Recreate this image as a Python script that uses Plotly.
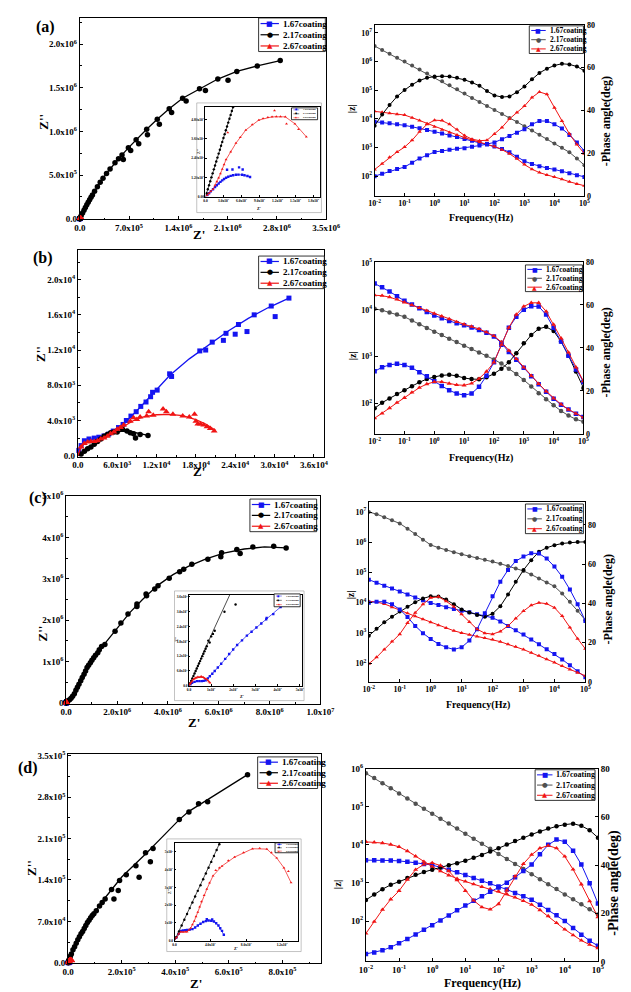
import plotly.graph_objects as go

W, H = 631, 992
SERIF = "Liberation Serif"
SYM = "DejaVu Sans"
BLUE = "#1414f0"
RED = "#f01414"
BLACK = "#000000"
GRAY = "#505050"

NAMES = ["1.67coating", "2.17coating", "2.67coating"]
PANEL_LABELS = ["(a)", "(b)", "(c)", "(d)"]

# ---------------- Bode data (frequency, log10|Z|, -phase) ----------------
F_HZ = [0.01, 0.0178, 0.0316, 0.0562, 0.1, 0.178, 0.316, 0.562, 1, 1.78, 3.16, 5.62, 10, 17.8,
        31.6, 56.2, 100, 178, 316, 562, 1000, 1780, 3160, 5620, 10000, 17800, 31600, 56200, 100000]

A_LOGZ_167 = [3.90,3.87,3.84,3.81,3.77,3.72,3.67,3.61,3.55,3.49,3.42,3.36,3.29,3.23,3.16,3.10,3.03,2.94,2.83,2.67,2.52,2.42,2.34,2.28,2.23,2.17,2.10,2.03,1.97]
A_LOGZ_217 = [6.54,6.40,6.27,6.13,6.00,5.86,5.72,5.58,5.45,5.31,5.17,5.03,4.88,4.73,4.59,4.45,4.31,4.17,4.03,3.89,3.74,3.59,3.44,3.29,3.14,2.99,2.83,2.61,2.38]
A_LOGZ_267 = [4.26,4.23,4.19,4.16,4.13,4.04,3.94,3.83,3.72,3.62,3.52,3.43,3.34,3.26,3.18,3.11,3.03,2.92,2.78,2.60,2.40,2.24,2.12,2.04,1.97,1.89,1.80,1.72,1.66]
A_PH_167 = [9.2,10.3,11.6,12.5,13.5,15.5,17.5,19.0,20.5,21.0,21.5,22.0,22.3,23.0,23.5,24.2,25.0,26.5,28.0,29.5,31.2,33.5,35.0,35.0,33.5,31.5,28.5,25.0,21.0]
A_PH_217 = [32.8,38.0,42.5,46.5,49.5,52.0,54.0,55.2,55.8,56.0,55.8,55.2,54.3,53.0,51.5,49.0,47.0,46.2,46.5,48.5,51.2,54.5,57.5,59.5,61.0,61.8,61.5,60.5,58.5]
A_PH_267 = [12.3,15.0,18.0,20.5,22.8,26.0,30.0,33.5,35.4,35.2,33.5,31.0,28.2,26.5,25.8,26.0,28.9,32.0,36.0,39.0,42.0,46.0,48.6,47.5,41.2,35.0,29.0,24.0,19.7]

B_LOGZ_167 = [4.56,4.48,4.39,4.29,4.19,4.11,4.03,3.95,3.88,3.82,3.76,3.71,3.67,3.62,3.57,3.51,3.43,3.29,3.10,2.93,2.76,2.58,2.41,2.25,2.10,1.97,1.87,1.78,1.71]
B_LOGZ_217 = [4.02,3.99,3.94,3.90,3.85,3.77,3.69,3.61,3.53,3.46,3.38,3.31,3.23,3.16,3.09,3.02,2.94,2.85,2.74,2.63,2.50,2.36,2.22,2.09,1.96,1.84,1.74,1.66,1.61]
B_LOGZ_267 = [4.31,4.30,4.27,4.22,4.16,4.10,4.04,3.98,3.92,3.86,3.80,3.74,3.69,3.64,3.59,3.52,3.44,3.31,3.13,2.95,2.77,2.59,2.42,2.26,2.11,1.98,1.87,1.78,1.70]
B_PH_167 = [29.1,31.0,32.1,32.6,32.1,30.8,28.7,26.8,24.5,22.3,20.3,18.8,18.0,18.8,21.9,27.0,33.3,41.5,49.4,54.5,57.8,59.4,59.3,55.5,49.4,43.0,36.4,30.0,24.2]
B_PH_217 = [11.9,14.5,16.5,18.5,20.3,22.2,24.0,25.5,26.5,27.2,27.5,27.0,26.0,25.5,25.4,26.3,28.0,30.3,33.3,37.5,42.2,46.0,48.9,49.8,47.9,43.0,36.4,29.0,21.4]
B_PH_267 = [7.3,9.5,12.0,14.5,16.8,19.3,21.5,23.2,24.2,24.2,23.4,22.8,22.6,23.5,25.7,29.0,33.3,41.5,49.4,55.5,59.3,61.0,61.0,57.0,50.9,44.5,37.9,31.0,24.5]

C_LOGZ_167 = [4.76,4.66,4.56,4.47,4.37,4.27,4.17,4.08,3.99,3.92,3.85,3.79,3.73,3.68,3.62,3.56,3.50,3.38,3.23,3.09,2.95,2.78,2.62,2.46,2.30,2.12,1.93,1.73,1.53]
C_LOGZ_217 = [7.00,6.93,6.83,6.73,6.62,6.45,6.27,6.08,5.91,5.82,5.74,5.67,5.60,5.54,5.48,5.42,5.36,5.29,5.21,5.13,5.05,4.93,4.80,4.67,4.54,4.30,4.03,3.73,3.42]
C_LOGZ_267 = [4.05,4.02,3.96,3.85,3.75,3.65,3.55,3.45,3.35,3.25,3.16,3.07,3.00,2.94,2.88,2.83,2.78,2.71,2.62,2.54,2.45,2.34,2.24,2.13,2.02,1.90,1.79,1.68,1.58]
C_PH_167 = [40.3,40.8,40.8,39.5,36.9,33.0,28.5,24.8,21.8,19.3,17.6,16.5,17.6,21.0,26.8,35.0,43.6,51.0,57.0,61.5,63.8,65.5,65.4,62.8,58.7,53.5,47.0,39.5,31.0]
C_PH_217 = [23.5,27.0,30.3,33.2,35.8,38.3,40.6,42.5,43.6,43.5,41.9,39.5,36.9,35.3,34.1,33.2,34.7,38.5,44.5,51.0,57.0,62.0,66.3,68.3,69.6,70.5,71.0,71.2,71.3]
C_PH_267 = [9.2,12.5,16.5,20.5,24.3,30.0,35.2,39.5,42.8,43.3,41.1,38.2,34.4,30.5,26.8,24.8,24.3,25.7,28.5,32.3,36.1,39.0,40.3,39.8,37.8,33.5,27.7,22.0,16.8]

D_LOGZ_167 = [3.60,3.60,3.59,3.59,3.58,3.56,3.53,3.50,3.47,3.41,3.35,3.28,3.21,3.13,3.06,2.99,2.91,2.83,2.74,2.65,2.56,2.43,2.29,2.15,2.00,1.82,1.64,1.48,1.35]
D_LOGZ_217 = [5.88,5.76,5.62,5.49,5.35,5.22,5.08,4.95,4.82,4.69,4.56,4.43,4.29,4.16,4.03,3.90,3.76,3.63,3.50,3.37,3.23,3.10,2.97,2.84,2.70,2.57,2.44,2.31,2.17]
D_LOGZ_267 = [4.08,4.07,4.05,4.01,3.95,3.84,3.70,3.56,3.43,3.31,3.20,3.11,3.04,2.97,2.90,2.84,2.78,2.71,2.62,2.53,2.43,2.29,2.13,1.95,1.78,1.63,1.49,1.38,1.29]
D_PH_167 = [3.1,3.7,4.6,5.9,7.5,9.3,11.2,13.1,15.0,17.0,19.1,21.2,23.2,25.2,27.1,28.9,30.7,32.7,35.0,37.5,40.2,44.5,48.4,50.6,49.7,46.0,40.2,32.5,24.1]
D_PH_217 = [25.5,27.8,30.0,31.8,33.1,34.6,36.0,37.1,38.1,39.0,39.9,40.8,41.8,43.0,44.2,45.6,47.0,48.5,50.0,51.4,52.7,54.0,55.2,56.1,56.8,57.2,56.3,54.5,51.4]
D_PH_267 = [11.6,16.5,21.5,25.8,29.3,34.0,38.1,40.3,40.9,39.8,37.5,33.8,29.3,25.3,22.5,21.6,23.8,29.5,35.4,40.5,44.3,47.0,48.1,47.0,43.6,38.2,32.0,25.0,18.4]

# ---------------- Nyquist data (Z', Z'') ----------------
# (a)
A_167_X = [300,600,900,1260,1600,1900,2200,2500,2800,3100,3440,3600,3800,4200,4500,4600,5080,5500,5600,6100,6200,6500,7000,7430]
A_167_Y = [110,220,340,470,600,720,830,930,1020,1110,1190,1680,1250,1300,1700,1340,1370,1380,1830,1370,1700,1340,1290,1230]
A_167_FX = [0,1260,2340,3440,4200,5080,6100,7430]
A_167_FY = [0,470,880,1190,1300,1370,1370,1230]
A_267_X = [300,600,900,1260,1600,1900,2200,2500,2800,3100,3440,3720,4200,5080,5800,6720,7800,8900,9600,10400,11100,11500,11800,12500,13300,13500,14900,15500,16800]
A_267_Y = [100,220,340,470,720,950,1180,1440,1720,2000,2320,4000,2800,3340,3700,4160,4500,4780,4880,4950,4980,5370,4990,4990,4980,4550,4550,4200,3740]
A_267_FX = [0,1260,2340,3440,5080,6720,8900,11100,13300,14900,16800]
A_267_FY = [0,470,1290,2320,3340,4160,4780,4980,4980,4550,3740]
A_217_X = [200,400,600,800,1000,1200,1400,1600,1800,2000,2200,2400,2600,2800,3000,3200,3400,3600,3800,4000,4200,4400,4600,
           0.02e6,0.04e6,0.06e6,0.08e6,0.10e6,0.12e6,0.14e6,0.16e6,0.18e6,0.21e6,0.25e6,0.29e6,0.33e6,0.38e6,0.43e6,0.50e6,0.55e6,
           0.60e6,0.618e6,0.69e6,0.723e6,0.80e6,0.837e6,0.95e6,0.961e6,1.10e6,1.13e6,1.27e6,1.304e6,1.46e6,1.51e6,1.70e6,1.784e6,
           1.96e6,2.105e6,2.23e6,2.52e6,2.846e6]
A_217_Y = [220,470,720,970,1210,1460,1710,1950,2200,2440,2690,2930,3180,3420,3660,3900,4140,4380,4620,4860,5100,5340,5580,
           0.032e6,0.064e6,0.096e6,0.128e6,0.16e6,0.188e6,0.216e6,0.244e6,0.272e6,0.313e6,0.365e6,0.417e6,0.463e6,0.518e6,0.57e6,0.64e6,0.685e6,
           0.73e6,0.679e6,0.811e6,0.781e6,0.905e6,0.857e6,1.025e6,0.962e6,1.14e6,1.083e6,1.26e6,1.215e6,1.38e6,1.347e6,1.49e6,1.468e6,
           1.60e6,1.585e6,1.687e6,1.75e6,1.811e6]
A_217_FX = [0,4800,0.1e6,0.2e6,0.3e6,0.4e6,0.5e6,0.6e6,0.7e6,0.8e6,0.95e6,1.1e6,1.27e6,1.46e6,1.7e6,1.96e6,2.23e6,2.52e6,2.846e6]
A_217_FY = [0,5850,0.16e6,0.3e6,0.43e6,0.54e6,0.64e6,0.73e6,0.82e6,0.905e6,1.025e6,1.14e6,1.26e6,1.38e6,1.49e6,1.6e6,1.687e6,1.75e6,1.811e6]

# (b)
B_167_X = [150,500,1000,1700,2500,3200,4000,4700,5400,6200,6900,7400,8100,8900,9600,10400,11100,11400,12100,14000,14300,18600,19500,20500,22200,22600,24000,24500,25800,26900,29500,30100,32200]
B_167_Y = [600,1150,1700,1900,2000,2100,2250,2450,2800,3200,3550,4000,4500,5000,5600,6100,6700,7200,7450,9300,9000,11900,12000,12900,13100,13900,13800,14900,14100,16000,17000,15800,17900]
B_167_FX = [0,500,1500,3000,4500,6000,7500,9000,11000,14000,17000,20000,23000,26000,29000,32200]
B_167_FY = [0,1200,1800,2000,2400,3100,4000,5100,6700,9100,11000,12600,14200,15600,16800,17900]
B_217_X = [500,1000,1500,2000,2500,3000,3500,4000,4500,5000,5500,6000,6800,7500,8000,8500,8800,9500,10700]
B_217_Y = [200,500,800,1000,1300,1600,1900,2200,2400,2600,2700,2700,3000,2800,2600,2500,2000,2400,2300]
B_217_FX = [0,1000,2000,3000,4000,5000,6000,7000,8000,9000,10000,10700]
B_217_FY = [0,500,1000,1600,2100,2500,2700,2800,2750,2600,2400,2300]
B_267_X = [500,1000,1500,2000,2500,3000,3500,4000,4500,5000,5500,6000,6500,7000,8000,8500,9000,9500,10500,10800,11500,13000,13500,14500,16000,17000,17800,18000,18300,18700,19200,19700,20200,20800]
B_267_Y = [1000,1400,1550,1600,1600,1700,1900,2000,2200,2500,2700,3000,3200,3500,3900,4300,4100,4400,4500,5000,4600,5300,5000,4700,4500,4400,4700,3900,3600,3600,3500,3300,3100,2800]
B_267_FX = [0,500,1200,2500,4000,5500,7000,8500,10000,12000,14000,16000,18000,19500,21000]
B_267_FY = [0,1000,1500,1600,2000,2700,3400,4000,4400,4650,4700,4550,4100,3600,2900]

# (c)
C_167_X = [700,1400,2500,3600,4700,5800,6600,7500,8500,9400,10500,11600,13000,14500,16300,18100,19900,21700,23900,26100,28200,30400,32600,34800,35000,38000,41300]
C_167_Y = [600,1200,1600,1870,1900,1870,2000,2270,3000,3870,4900,6000,7400,8900,10900,12900,14700,16500,18400,20300,21900,23600,25200,26900,27500,29000,31900]
C_167_FX = [0,1400,3600,5800,7500,9400,11600,14500,18100,21700,26100,30400,34800,41300]
C_167_FY = [0,1200,1870,1870,2270,3870,6000,8900,12900,16500,20300,23600,26900,31900]
C_267_X = [300,600,1000,1500,2000,2500,3000,3500,4000,4500,5000,5500,6000,6500,7000,7500,8000,8500,9000,9500]
C_267_Y = [500,1000,1500,2000,2600,2900,3200,3300,3600,3400,3500,3800,3400,3400,3000,2800,2600,2100,1600,1200]
C_267_FX = [0,1000,2000,3500,5000,6500,8000,9000,9500]
C_267_FY = [0,1500,2600,3200,3500,3400,2600,1600,1200]
C_217_X = [500,1000,1500,2000,2500,3000,3500,4000,4500,5000,5500,6000,6500,7000,7500,8000,8700,9300,10000,10800,11600,16000,21000,
           0.06e6,0.13e6,0.19e6,0.25e6,0.32e6,0.38e6,0.44e6,0.5e6,0.57e6,0.63e6,0.70e6,0.76e6,0.82e6,0.88e6,0.95e6,1.01e6,1.08e6,1.15e6,1.24e6,1.3e6,1.39e6,1.52e6,
           1.92e6,2.15e6,2.43e6,2.78e6,2.78e6,3.14e6,3.16e6,3.48e6,3.61e6,4.05e6,4.46e6,4.62e6,4.94e6,5.57e6,6.08e6,6.11e6,6.71e6,6.84e6,7.34e6,8.16e6,8.65e6]
C_217_Y = [1000,2000,3000,4000,5000,6000,7000,8000,9000,10000,11000,12000,13000,14000,15000,16000,18300,17500,20000,21000,22300,30000,32900,
           0.04e6,0.07e6,0.11e6,0.16e6,0.22e6,0.30e6,0.375e6,0.45e6,0.53e6,0.61e6,0.69e6,0.77e6,0.85e6,0.91e6,0.97e6,1.03e6,1.09e6,1.15e6,1.21e6,1.28e6,1.36e6,1.41e6,
           1.73e6,1.93e6,2.15e6,2.39e6,2.33e6,2.63e6,2.59e6,2.75e6,2.83e6,3.01e6,3.17e6,3.23e6,3.35e6,3.47e6,3.53e6,3.63e6,3.71e6,3.61e6,3.77e6,3.785e6,3.745e6]
C_217_FX = [0,10000,20000,0.3e6,0.6e6,1.0e6,1.5e6,2.0e6,2.5e6,3.0e6,3.6e6,4.2e6,4.8e6,5.5e6,6.2e6,7.0e6,7.8e6,8.65e6]
C_217_FY = [0,20500,40000,0.2e6,0.55e6,1.02e6,1.42e6,1.8e6,2.18e6,2.5e6,2.84e6,3.1e6,3.3e6,3.48e6,3.62e6,3.72e6,3.77e6,3.745e6]

# (d)
D_167_X = [200,450,700,950,1200,1400,1700,2000,2300,2600,2900,3200,3500,3600,3800,4100,4200,4400,4650,4900,5100,5300,5500]
D_167_Y = [170,380,540,570,590,600,620,650,740,850,950,1050,1100,1200,1130,1120,1190,1080,980,850,700,550,330]
D_167_FX = [0,700,1400,2000,2600,3200,3800,4400,4900,5300,5500]
D_167_FY = [0,540,600,650,850,1050,1130,1080,850,550,330]
D_267_X = [200,450,700,950,1200,1400,1600,1800,2000,2200,2400,2600,2800,3000,3300,3600,3900,4300,4600,5000,5300,6000,6700,7700,8700,9500,10300,10800,11400,12200,12700,13000]
D_267_Y = [170,380,500,480,500,500,600,700,900,1100,1350,1600,1900,2200,2550,2900,3250,3650,3950,4100,4200,4500,4700,4950,5170,5200,5150,4950,4650,4100,3900,3260]
D_267_FX = [0,700,1400,1800,2200,2600,3000,3600,4300,5300,6700,8700,10300,11400,12200,13000]
D_267_FY = [0,500,500,700,1100,1600,2200,2900,3650,4200,4700,5170,5150,4650,4100,3260]
D_217_X = [200,500,800,1100,1400,1700,2000,2300,2600,2900,3200,3500,3800,4100,4400,4700,5000,
           0.08e5,0.12e5,0.18e5,0.24e5,0.30e5,0.36e5,0.42e5,0.48e5,0.54e5,0.60e5,0.66e5,0.72e5,0.78e5,0.84e5,0.90e5,0.96e5,1.05e5,1.17e5,1.27e5,1.38e5,
           1.62e5,1.71e5,1.87e5,1.92e5,2.17e5,2.53e5,2.65e5,2.89e5,3.07e5,3.17e5,4.15e5,4.51e5,4.87e5,5.21e5,6.70e5]
D_217_Y = [200,520,850,1180,1500,1830,2150,2480,2800,3120,3450,3780,4100,4430,4760,5100,5420,
           0.11e5,0.15e5,0.22e5,0.27e5,0.33e5,0.39e5,0.44e5,0.49e5,0.53e5,0.58e5,0.63e5,0.68e5,0.72e5,0.76e5,0.80e5,0.83e5,0.88e5,0.96e5,1.02e5,1.08e5,
           1.24e5,1.08e5,1.22e5,1.39e5,1.49e5,1.64e5,1.445e5,1.86e5,1.71e5,1.93e5,2.42e5,2.55e5,2.69e5,2.72e5,3.18e5]
D_217_FX = [0,5100,0.3e5,0.78e5,1.38e5,2.0e5,2.53e5,2.89e5,3.5e5,4.15e5,4.51e5,5.21e5,6.70e5]
D_217_FY = [0,5550,0.33e5,0.72e5,1.1e5,1.45e5,1.68e5,1.84e5,2.12e5,2.42e5,2.56e5,2.76e5,3.18e5]

# ---------------- tick labels ----------------
def sup(m, e):
    return f"{m}x10<sup>{e}</sup>"

NA_XT = [0, 7e5, 1.4e6, 2.1e6, 2.8e6, 3.5e6]
NA_XL = ["0.0", sup("7.0", 5), sup("1.4", 6), sup("2.1", 6), sup("2.8", 6), sup("3.5", 6)]
NA_YT = [0, 5e5, 1e6, 1.5e6, 2e6]
NA_YL = ["0.0", sup("5.0", 5), sup("1.0", 6), sup("1.5", 6), sup("2.0", 6)]
NB_XT = [0, 6e3, 1.2e4, 1.8e4, 2.4e4, 3.0e4, 3.6e4]
NB_XL = ["0.0", sup("6.0", 3), sup("1.2", 4), sup("1.8", 4), sup("2.4", 4), sup("3.0", 4), sup("3.6", 4)]
NB_YT = [0, 4e3, 8e3, 1.2e4, 1.6e4, 2.0e4]
NB_YL = ["0.0", sup("4.0", 3), sup("8.0", 3), sup("1.2", 4), sup("1.6", 4), sup("2.0", 4)]
NC_XT = [0, 2e6, 4e6, 6e6, 8e6, 1e7]
NC_XL = ["0.0", sup("2.0", 6), sup("4.0", 6), sup("6.0", 6), sup("8.0", 6), sup("1.0", 7)]
NC_YT = [0, 1e6, 2e6, 3e6, 4e6, 5e6]
NC_YL = ["0", sup("1", 6), sup("2", 6), sup("3", 6), sup("4", 6), sup("5", 6)]
ND_XT = [0, 2e5, 4e5, 6e5, 8e5]
ND_XL = ["0.0", sup("2.0", 5), sup("4.0", 5), sup("6.0", 5), sup("8.0", 5)]
ND_YT = [0, 7e4, 1.4e5, 2.1e5, 2.8e5, 3.5e5]
ND_YL = ["0.0", sup("7.0", 4), sup("1.4", 5), sup("2.1", 5), sup("2.8", 5), sup("3.5", 5)]

IA_XT = [0, 3e3, 6e3, 9e3, 1.2e4, 1.5e4, 1.8e4]
IA_XL = ["0.0", sup("3.0", 3), sup("6.0", 3), sup("9.0", 3), sup("1.2", 4), sup("1.5", 4), sup("1.8", 4)]
IA_YT = [0, 1.2e3, 2.4e3, 3.6e3, 4.8e3]
IA_YL = ["0.00", sup("1.20", 3), sup("2.40", 3), sup("3.60", 3), sup("4.80", 3)]
IC_XT = [0, 1e4, 2e4, 3e4, 4e4, 5e4]
IC_XL = ["0.0", sup("1", 4), sup("2", 4), sup("3", 4), sup("4", 4), sup("5", 4)]
IC_YT = [0, 6e3, 1.2e4, 1.8e4, 2.4e4, 3.0e4, 3.6e4]
IC_YL = ["0.0", sup("6.0", 3), sup("1.2", 4), sup("1.8", 4), sup("2.4", 4), sup("3.0", 4), sup("3.6", 4)]
ID_XT = [0, 4e3, 8e3, 1.2e4]
ID_XL = ["0.0", sup("4.0", 3), sup("8.0", 3), sup("1.2", 4)]
ID_YT = [0, 1e3, 2e3, 3e3, 4e3, 5e3]
ID_YL = ["0.0", sup("1", 3), sup("2", 3), sup("3", 3), sup("4", 3), sup("5", 3)]

BODE_XT = [1e-2, 1e-1, 1, 1e1, 1e2, 1e3, 1e4, 1e5]
BODE_XL = ["10<sup>-2</sup>", "10<sup>-1</sup>", "10<sup>0</sup>", "10<sup>1</sup>",
           "10<sup>2</sup>", "10<sup>3</sup>", "10<sup>4</sup>", "10<sup>5</sup>"]
BODE_ZT = [1e2, 1e3, 1e4, 1e5, 1e6, 1e7]
BODE_ZL = ["10<sup>2</sup>", "10<sup>3</sup>", "10<sup>4</sup>", "10<sup>5</sup>", "10<sup>6</sup>", "10<sup>7</sup>"]
PHASE_T = [0, 20, 40, 60, 80]

# ---------------- helpers ----------------
def dx(a, b):
    return [a / W, b / W]


def dy(top, bottom):
    return [1 - bottom / H, 1 - top / H]


def r(prefix, n):
    return prefix if n == 1 else f"{prefix}{n}"


def k(prefix, n):
    return prefix if n == 1 else f"{prefix}{n}"


fig = go.Figure()
layout = {}
shapes = []
annotations = []


def tfont(size):
    return dict(family=SERIF, size=size, color="black", weight="bold")


def base_axis(size, tlen=3):
    return dict(showline=True, linecolor="black", linewidth=1, showgrid=False, zeroline=False,
                ticks="inside", ticklen=tlen, tickcolor="black", tickwidth=1, tickfont=tfont(size),
                tickmode="array")


def lin_axes(nx, ny, xd, yd, xr, yr, xt, xl, yt, yl, fs, xminor=None, yminor=None, tlen=3, lw=1):
    xa = base_axis(fs, tlen)
    xa.update(domain=dx(*xd), range=xr, tickvals=xt, ticktext=xl, anchor=r("y", ny), mirror=True, linewidth=lw)
    ya = base_axis(fs, tlen)
    ya.update(domain=dy(*yd), range=yr, tickvals=yt, ticktext=yl, anchor=r("x", nx), mirror=True, linewidth=lw)
    if xminor:
        xa["minor"] = dict(tickmode="linear", tick0=0, dtick=xminor, ticks="inside", ticklen=tlen * 0.6, tickcolor="black", showgrid=False)
    if yminor:
        ya["minor"] = dict(tickmode="linear", tick0=0, dtick=yminor, ticks="inside", ticklen=tlen * 0.6, tickcolor="black", showgrid=False)
    layout[k("xaxis", nx)] = xa
    layout[k("yaxis", ny)] = ya


def bode_axes(nx, nyz, nyp, xd, yd, zr, pr, fs):
    xa = base_axis(fs)
    xa.update(type="log", domain=dx(*xd), range=[-2, 5], tickvals=BODE_XT, ticktext=BODE_XL,
              anchor=r("y", nyz), mirror=True)
    za = base_axis(fs)
    za.update(type="log", domain=dy(*yd), range=zr, tickvals=BODE_ZT, ticktext=BODE_ZL, anchor=r("x", nx))
    pa = base_axis(fs)
    pa.update(range=pr, tickvals=PHASE_T, ticktext=[str(v) for v in PHASE_T], anchor=r("x", nx),
              overlaying=r("y", nyz), side="right")
    layout[k("xaxis", nx)] = xa
    layout[k("yaxis", nyz)] = za
    layout[k("yaxis", nyp)] = pa


def add_ny(nx, ny, fx, fy, mx, my, color, symbol, msize, lw, clip):
    fig.add_trace(go.Scatter(x=fx, y=fy, mode="lines", line=dict(color=color, width=lw),
                             xaxis=r("x", nx), yaxis=r("y", ny), showlegend=False, cliponaxis=clip, hoverinfo="skip"))
    fig.add_trace(go.Scatter(x=mx, y=my, mode="markers", marker=dict(color=color, symbol=symbol, size=msize, line=dict(width=0)),
                             xaxis=r("x", nx), yaxis=r("y", ny), showlegend=False, cliponaxis=clip))


def add_bode(nx, nyz, nyp, logz, ph, zcol, pcol, symbol, ms):
    fig.add_trace(go.Scatter(x=F_HZ, y=[10 ** v for v in logz], mode="lines+markers",
                             line=dict(color=zcol, width=1), marker=dict(color=zcol, symbol=symbol, size=ms, line=dict(width=0)),
                             xaxis=r("x", nx), yaxis=r("y", nyz), showlegend=False))
    fig.add_trace(go.Scatter(x=F_HZ, y=ph, mode="lines+markers",
                             line=dict(color=pcol, width=1), marker=dict(color=pcol, symbol=symbol, size=ms, line=dict(width=0)),
                             xaxis=r("x", nx), yaxis=r("y", nyp), showlegend=False))


def ann(x, y, text, size, angle=0, xanchor="center", color="black", family=SERIF, bold=True):
    annotations.append(dict(x=x / W, y=1 - y / H, xref="paper", yref="paper", text=text, showarrow=False,
                            textangle=angle, xanchor=xanchor, yanchor="middle",
                            font=dict(family=family, size=size, color=color, weight="bold" if bold else "normal")))


def legend_box(x0, y0, x1, y1, colors, fs, line_len, sym_fs, lw=1.2):
    shapes.append(dict(type="rect", xref="paper", yref="paper", x0=x0 / W, x1=x1 / W, y0=1 - y0 / H, y1=1 - y1 / H,
                       line=dict(color="black", width=0.8), fillcolor="white", layer="above"))
    glyphs = ["\u25a0", "\u25cf", "\u25b2"]
    h = (y1 - y0) / 3
    for i, (name, col) in enumerate(zip(NAMES, colors)):
        yc = y0 + h * (i + 0.5)
        shapes.append(dict(type="line", xref="paper", yref="paper", x0=(x0 + 2) / W, x1=(x0 + 2 + line_len) / W,
                           y0=1 - yc / H, y1=1 - yc / H, line=dict(color=col, width=lw), layer="above"))
        ann(x0 + 2 + line_len / 2, yc, glyphs[i], sym_fs, color=col, family=SYM, bold=False)
        ann(x0 + 4 + line_len, yc, name, fs, xanchor="left")


# ---------------- Nyquist main panels ----------------
PANELS_NY = [
    (1, 1, (67, 322), (3, 207), [0, 3.5e6], [-0.01e6, 2.3e6], NA_XT, NA_XL, NA_YT, NA_YL, 3.5e5, 2.5e5,
     (A_167_FX, A_167_FY, A_167_X, A_167_Y), (A_217_FX, A_217_FY, A_217_X, A_217_Y), (A_267_FX, A_267_FY, A_267_X, A_267_Y)),
    (3, 4, (65, 320), (238, 447), [0, 3.76e4], [-0.01e4, 2.335e4], NB_XT, NB_XL, NB_YT, NB_YL, 3e3, 2e3,
     (B_167_FX, B_167_FY, B_167_X, B_167_Y), (B_217_FX, B_217_FY, B_217_X, B_217_Y), (B_267_FX, B_267_FY, B_267_X, B_267_Y)),
    (5, 7, (53, 316), (487, 697), [0, 1.0e7], [-0.02e6, 5.0e6], NC_XT, NC_XL, NC_YT, NC_YL, 1e6, 5e5,
     (C_167_FX, C_167_FY, C_167_X, C_167_Y), (C_217_FX, C_217_FY, C_217_X, C_217_Y), (C_267_FX, C_267_FY, C_267_X, C_267_Y)),
    (7, 10, (55, 317), (748, 960), [0, 9.46e5], [-0.01e5, 3.53e5], ND_XT, ND_XL, ND_YT, ND_YL, 1e5, 3.5e4,
     (D_167_FX, D_167_FY, D_167_X, D_167_Y), (D_217_FX, D_217_FY, D_217_X, D_217_Y), (D_267_FX, D_267_FY, D_267_X, D_267_Y)),
]

for (nx, ny, xd, yd, xr, yr, xt, xl, yt, yl, xm, ym, s167, s217, s267) in PANELS_NY:
    lin_axes(nx, ny, xd, yd, xr, yr, xt, xl, yt, yl, 9, xm, ym)
    add_ny(nx, ny, *s167, BLUE, "square", 5, 1.3, False)
    add_ny(nx, ny, *s217, BLACK, "circle", 5.5, 1.3, False)
    add_ny(nx, ny, *s267, RED, "triangle-up", 6, 1.3, False)

# ---------------- Bode panels ----------------
PANELS_BODE = [
    (2, 2, 3, (372, 589), (10, 183), [1.31, 7.28], [0, 80], 8, 4,
     (A_LOGZ_167, A_PH_167), (A_LOGZ_217, A_PH_217), (A_LOGZ_267, A_PH_267)),
    (4, 5, 6, (372, 588), (250, 424), [1.35, 5.02], [0, 80], 8, 4.5,
     (B_LOGZ_167, B_PH_167), (B_LOGZ_217, B_PH_217), (B_LOGZ_267, B_PH_267)),
    (6, 8, 9, (366, 590), (493, 675), [1.38, 7.33], [0, 91.6], 8, 4,
     (C_LOGZ_167, C_PH_167), (C_LOGZ_217, C_PH_217), (C_LOGZ_267, C_PH_267)),
    (8, 11, 12, (363, 603), (763, 958), [0.94, 6.0], [0, 80], 9, 4.5,
     (D_LOGZ_167, D_PH_167), (D_LOGZ_217, D_PH_217), (D_LOGZ_267, D_PH_267)),
]

for (nx, nyz, nyp, xd, yd, zr, pr, fs, ms, s167, s217, s267) in PANELS_BODE:
    bode_axes(nx, nyz, nyp, xd, yd, zr, pr, fs)
    add_bode(nx, nyz, nyp, *s217, GRAY, BLACK, "circle", ms)
    add_bode(nx, nyz, nyp, *s167, BLUE, BLUE, "square", ms)
    add_bode(nx, nyz, nyp, *s267, RED, RED, "triangle-up", ms)

# ---------------- insets (drawn last so they sit on top) ----------------
INSETS = [
    (9, 13, (197, 315), (93, 184), [0, 1.9e4], [0, 5.6e3], IA_XT, IA_XL, IA_YT, IA_YL,
     (A_167_FX, A_167_FY, A_167_X, A_167_Y), (A_217_FX, A_217_FY, A_217_X, A_217_Y), (A_267_FX, A_267_FY, A_267_X, A_267_Y)),
    (10, 14, (180, 297), (587, 679), [0, 5.1e4], [0, 3.68e4], IC_XT, IC_XL, IC_YT, IC_YL,
     (C_167_FX, C_167_FY, C_167_X, C_167_Y), (C_217_FX, C_217_FY, C_217_X, C_217_Y), (C_267_FX, C_267_FY, C_267_X, C_267_Y)),
    (11, 15, (165, 293), (838, 937), [0, 1.38e4], [0, 5.5e3], ID_XT, ID_XL, ID_YT, ID_YL,
     (D_167_FX, D_167_FY, D_167_X, D_167_Y), (D_217_FX, D_217_FY, D_217_X, D_217_Y), (D_267_FX, D_267_FY, D_267_X, D_267_Y)),
]

for (nx, ny, xd, yd, xr, yr, xt, xl, yt, yl, s167, s217, s267) in INSETS:
    lin_axes(nx, ny, xd, yd, xr, yr, xt, xl, yt, yl, 3.5, None, None, tlen=1.5, lw=0.6)
    add_ny(nx, ny, *s167, BLUE, "square", 2.4, 0.7, True)
    add_ny(nx, ny, *s217, BLACK, "circle", 2.4, 0.7, True)
    add_ny(nx, ny, *s267, RED, "triangle-up", 2.6, 0.7, True)

# inset outer frames
for (x0, y0, x1, y1) in [(188, 89, 317, 200), (165, 583, 299, 694), (157, 834, 296, 948)]:
    shapes.append(dict(type="rect", xref="paper", yref="paper", x0=x0 / W, x1=x1 / W, y0=1 - y0 / H, y1=1 - y1 / H,
                       line=dict(color="#9a9a9a", width=0.6), layer="above"))

# ---------------- titles / labels ----------------
for (txt, x, y) in zip(PANEL_LABELS, [32, 29, 24, 13], [12, 246, 489, 762]):
    ann(x, y, txt, 16)

for (x, y) in [(30, 108), (27, 343), (28, 626), (17, 863)]:
    ann(x, y, "Z''", 13, angle=-90)
for (x, y) in [(190, 222), (190, 462), (185, 716), (187, 980)]:
    ann(x, y, "Z'", 13)

for (x, y, s) in [(348, 95, 10), (349, 345, 10), (347, 587, 10), (333, 880, 11)]:
    ann(x, y, "|z|", s, angle=-90)
for (x, y, s) in [(611, 108, 12), (611, 342, 12), (613, 592, 12), (620, 878, 14)]:
    ann(x, y, "-Phase angle(deg)", s, angle=-90)
for (x, y, s) in [(482, 205, 10), (482, 448, 10), (479, 698, 10), (484, 980, 12)]:
    ann(x, y, "Frequency(Hz)", s)

# inset axis titles
for (x, y) in [(252, 196), (235, 690), (229, 945)]:
    ann(x, y, "Z'", 4)
for (x, y) in [(190, 138), (167, 632), (160, 887)]:
    ann(x, y, "Z''", 4, angle=-90)

# ---------------- legends ----------------
NY_COLORS = [BLUE, BLACK, RED]
BODE_COLORS = [BLUE, GRAY, RED]
legend_box(252, 3, 321, 37, NY_COLORS, 9, 19, 7)
legend_box(252, 244, 320, 277, NY_COLORS, 9, 19, 7)
legend_box(243, 490, 312, 523, NY_COLORS, 9, 19, 7)
legend_box(251, 751, 313, 783, NY_COLORS, 9, 19, 7)
legend_box(532, 11, 588, 39, BODE_COLORS, 7.5, 15, 6, lw=1)
legend_box(528, 253, 587, 280, BODE_COLORS, 7.5, 15, 6, lw=1)
legend_box(528, 495, 588, 525, BODE_COLORS, 7.5, 15, 6, lw=1)
legend_box(538, 764, 600, 795, BODE_COLORS, 8, 16, 6.5, lw=1)
legend_box(286, 94, 313, 106, NY_COLORS, 2.6, 6, 2.5, lw=0.5)
legend_box(268, 586, 295, 599, [BLUE, BLACK, RED], 2.6, 6, 2.5, lw=0.5)
legend_box(269, 838, 293, 848, NY_COLORS, 2.4, 5, 2.3, lw=0.5)

fig.update_layout(**layout)
fig.update_layout(width=W, height=H, autosize=False, margin=dict(l=0, r=0, t=0, b=0),
                  paper_bgcolor="white", plot_bgcolor="white", showlegend=False,
                  shapes=shapes, annotations=annotations)

fig.write_html("out.html")
